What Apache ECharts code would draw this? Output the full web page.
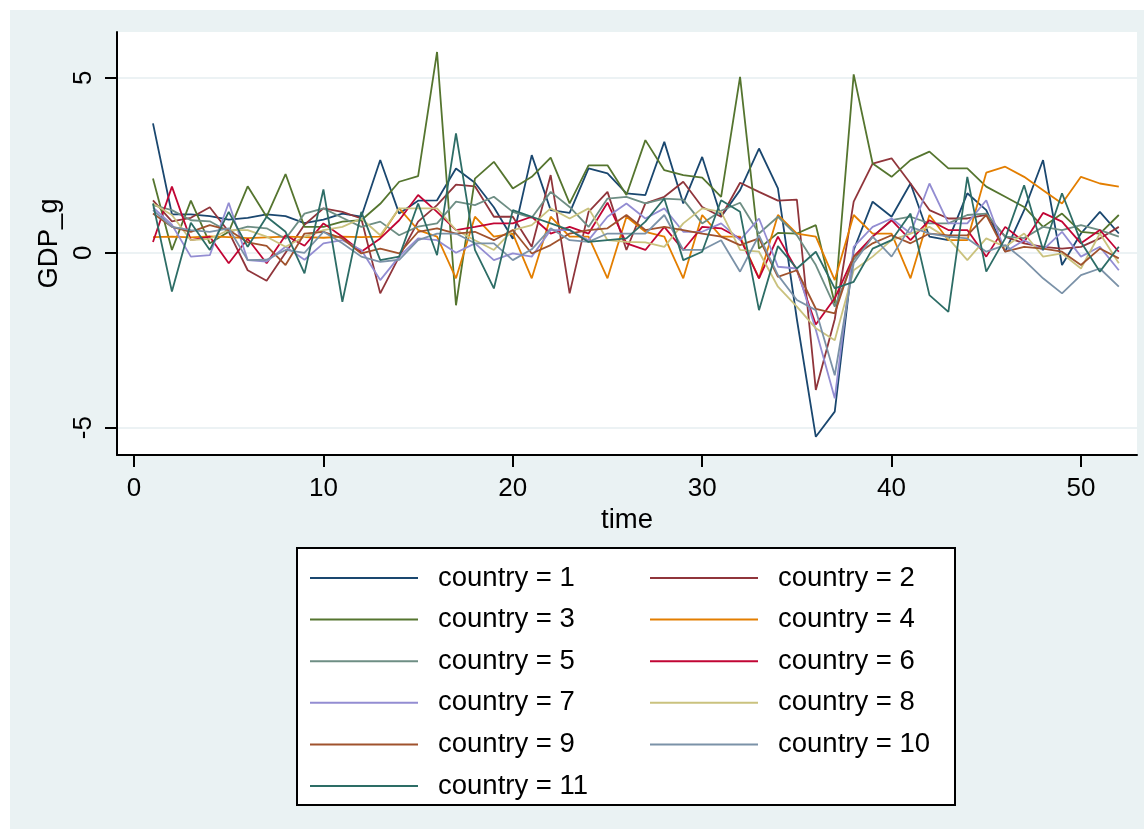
<!DOCTYPE html>
<html lang="en">
<head>
    <meta charset="utf-8">
    <title>GDP_g by country</title>
    <script src="https://cdn.jsdelivr.net/npm/echarts@6/dist/echarts.min.js"></script>
    <style>
        html, body { margin: 0; padding: 0; background: #fff; }
        #main { position: absolute; left: 10px; top: 10px; width: 1134px; height: 819px; }
    </style>
</head>
<body>
    <div id="main"></div>

    <script type="text/javascript">
    // time axis
    var time = [1,2,3,4,5,6,7,8,9,10,11,12,13,14,15,16,17,18,19,20,21,22,23,24,25,26,
                27,28,29,30,31,32,33,34,35,36,37,38,39,40,41,42,43,44,45,46,47,48,49,50,51,52];
    var xTicks = [0, 10, 20, 30, 40, 50];
    var yTicks = [-5, 0, 5];

    // GDP_g per country
    var country1 = [3.7,1.1,1.1,1.05,0.95,1.0,1.1,1.05,0.85,0.95,
        1.12,1.03,2.65,1.12,1.49,1.5,2.41,2.0,1.3,0.4,
        2.79,1.22,1.14,2.41,2.27,1.7,1.65,3.17,1.41,2.74,
        1.03,1.79,2.98,1.84,-1.9,-5.26,-4.54,0.08,1.46,1.03,
        1.98,0.46,0.36,1.7,1.22,0.03,1.22,2.65,-0.35,0.55,
        1.17,0.55];
    var country2 = [1.5,0.9,1.0,1.3,0.6,-0.5,-0.8,0.0,0.8,1.27,
        1.17,0.98,-1.16,-0.11,0.89,1.36,1.95,1.9,1.03,1.03,
        0.17,2.22,-1.16,1.17,1.74,0.08,1.41,1.6,2.03,1.31,
        1.03,2.0,1.74,1.49,1.52,-3.92,-1.9,1.46,2.55,2.7,
        1.98,1.22,0.98,0.98,1.08,0.46,0.27,0.17,0.12,0.17,
        0.41,0.74];
    var country3 = [2.12,0.08,1.49,0.27,0.6,1.9,1.03,2.25,0.74,0.74,
        0.89,0.93,1.4,2.03,2.19,5.74,-1.5,2.12,2.6,1.84,
        2.17,2.72,1.41,2.5,2.5,1.65,3.22,2.36,2.22,2.15,
        1.6,5.03,0.12,0.57,0.55,0.79,-1.45,5.1,2.55,2.17,
        2.65,2.89,2.41,2.41,1.89,1.6,1.31,0.74,1.12,0.6,
        0.55,1.08];
    var country4 = [0.45,0.46,0.44,0.47,0.45,0.42,0.44,0.46,0.45,0.43,
        0.46,0.45,0.46,1.27,0.65,0.46,-0.73,1.03,0.46,0.55,
        -0.73,1.03,0.46,0.46,-0.73,1.03,0.6,0.46,-0.73,1.08,
        0.46,0.46,-0.73,1.08,0.55,0.46,-0.78,1.08,0.55,0.55,
        -0.73,1.08,0.36,0.36,2.29,2.46,2.17,1.79,1.41,2.17,
        1.98,1.89];
    var country5 = [1.36,1.22,0.93,0.9,0.6,0.75,0.7,0.4,1.12,1.27,
        1.0,0.74,0.89,0.5,0.75,0.84,1.46,1.36,1.6,1.17,
        1.0,1.74,1.31,0.74,1.55,1.6,1.41,1.55,1.52,0.84,
        1.2,1.43,0.55,1.03,0.5,-0.35,-1.54,-0.2,0.46,0.93,
        1.03,0.84,0.84,1.08,1.12,0.46,0.42,0.74,0.65,0.79,
        0.65,0.46];
    var country6 = [0.31,1.89,0.36,0.46,-0.3,0.4,-0.3,0.5,0.2,0.84,
        0.46,0.03,0.41,0.93,1.65,1.17,0.65,0.74,0.84,0.84,
        1.03,0.55,0.74,0.55,1.43,0.27,0.08,0.74,0.08,0.74,
        0.7,0.41,-0.73,0.46,-0.5,-2.05,-1.3,-0.11,0.46,0.93,
        0.36,0.93,0.65,0.65,-0.11,0.74,0.31,1.14,0.89,0.27,
        0.65,0.03];
    var country7 = [1.3,0.8,-0.11,-0.07,1.43,-0.21,-0.25,0.17,-0.2,0.27,
        0.36,0.08,-0.78,-0.11,0.41,0.36,0.0,0.27,-0.21,-0.02,
        -0.11,0.65,0.65,0.36,1.03,1.41,0.98,1.27,0.6,0.6,
        0.84,0.36,0.98,-0.4,-0.45,-2.2,-4.16,0.17,0.74,0.98,
        0.55,1.98,0.84,0.84,1.5,0.03,0.36,0.08,0.6,-0.11,
        0.17,-0.5];
    var country8 = [1.41,1.08,0.36,0.4,0.65,0.65,0.46,0.17,0.46,0.65,
        0.74,0.98,0.5,1.27,1.27,1.27,0.65,0.36,0.08,0.65,
        0.79,1.27,0.98,1.27,0.36,0.31,0.3,0.17,0.84,1.27,
        1.17,0.08,0.03,-0.97,-1.54,-2.16,-2.5,-0.5,-0.11,0.36,
        0.55,0.74,0.41,-0.21,0.41,0.17,0.55,-0.11,-0.02,-0.45,
        0.55,-0.3];
    var country9 = [1.12,0.74,0.6,0.79,0.65,0.3,0.2,-0.35,0.55,0.6,
        0.41,-0.02,0.12,-0.02,0.6,0.7,0.55,0.6,0.36,0.65,
        -0.02,0.22,0.55,0.65,0.7,1.08,0.65,0.74,0.65,0.55,
        0.46,0.22,0.41,-0.69,-0.5,-1.6,-1.73,-0.11,0.27,0.5,
        0.27,0.55,0.5,0.5,1.08,0.03,0.17,0.12,0.03,-0.35,
        0.12,-0.16];
    var country10 = [1.22,0.74,0.65,0.6,0.7,-0.21,-0.2,0.08,0.0,0.6,
        0.27,-0.11,-0.26,-0.2,0.36,0.55,0.55,0.27,0.27,-0.21,
        0.1,0.7,0.36,0.31,0.55,0.55,0.55,1.08,0.08,0.08,
        0.36,-0.54,0.5,-0.64,-1.35,-1.64,-3.5,-0.3,0.46,-0.11,
        0.74,0.55,0.46,0.41,0.03,0.22,-0.21,-0.73,-1.16,-0.64,
        -0.45,-0.97];
    var country11 = [1.41,-1.11,0.86,0.08,1.17,0.17,1.03,0.6,-0.59,1.81,
        -1.4,1.17,-0.21,-0.11,1.41,-0.07,3.41,0.08,-1.02,1.22,
        1.03,0.84,0.65,0.31,0.36,0.41,0.89,1.55,-0.21,0.03,
        1.5,1.17,-1.64,0.19,-0.45,0.03,-1.02,-0.83,0.12,0.36,
        1.12,-1.21,-1.69,2.17,-0.54,0.41,1.93,0.08,1.7,0.31,
        -0.54,0.17];

    var names = ['country = 1','country = 2','country = 3','country = 4','country = 5','country = 6',
                 'country = 7','country = 8','country = 9','country = 10','country = 11'];
    var values = [country1,country2,country3,country4,country5,country6,
                  country7,country8,country9,country10,country11];
    // Stata s2color palette
    var colors = ['#1a476f','#90353b','#55752f','#e37e00','#6e8e84','#c10534',
                  '#938dd2','#cac27e','#a0522d','#7b92a8','#2d6d66'];

    var font = "'Liberation Sans', Arial, sans-serif";
    var fs = 26;      // tick labels
    var fsTitle = 27.5; // axis titles and legend

    var series = names.map(function (n, i) {
        return {
            name: n,
            type: 'line',
            symbol: 'none',
            color: colors[i],
            lineStyle: { width: 1.8, color: colors[i] },
            data: time.map(function (t, k) { return [t, values[i][k]]; })
        };
    });

    var legendCommon = {
        orient: 'vertical',
        top: 549,
        icon: 'rect',
        itemWidth: 108,
        itemHeight: 2,
        itemGap: 13.6,
        selectedMode: false,
        textStyle: { fontFamily: font, fontSize: fsTitle, color: '#000', lineHeight: 28, padding: [0, 0, 0, 15] }
    };

    var myChart = echarts.init(document.getElementById('main'));
    myChart.setOption({
        animation: false,
        backgroundColor: '#eaf2f3',
        textStyle: { fontFamily: font },
        grid: {
            left: 107, top: 22, width: 1020, height: 423,
            show: true, backgroundColor: '#fff', borderWidth: 0
        },
        graphic: [{
            type: 'rect',
            z: 1,
            shape: { x: 287, y: 538, width: 658, height: 257 },
            style: { fill: '#fff', stroke: '#000', lineWidth: 2 }
        }],
        legend: [
            Object.assign({ left: 295, data: names.filter(function (n, i) { return i % 2 === 0; }) }, legendCommon),
            Object.assign({ left: 635, data: names.filter(function (n, i) { return i % 2 === 1; }) }, legendCommon)
        ],
        xAxis: {
            type: 'value',
            min: -0.9,
            max: 52.96,
            name: 'time',
            nameLocation: 'middle',
            nameGap: 45,
            nameTextStyle: { fontSize: fsTitle, color: '#000', fontFamily: font },
            axisLine: { onZero: false, lineStyle: { color: '#000', width: 2 } },
            axisTick: { customValues: xTicks, length: 12, lineStyle: { color: '#000', width: 2 } },
            axisLabel: { customValues: xTicks, fontSize: fs, color: '#000', margin: 21 },
            splitLine: { show: false }
        },
        yAxis: {
            type: 'value',
            min: -5.78,
            max: 6.31,
            name: 'GDP_g',
            nameLocation: 'middle',
            nameGap: 48,
            nameRotate: 90,
            nameTextStyle: { fontSize: fsTitle, color: '#000', fontFamily: font },
            axisLine: { show: true, onZero: false, lineStyle: { color: '#000', width: 2 } },
            axisTick: { show: true, customValues: yTicks, length: 12, lineStyle: { color: '#000', width: 2 } },
            axisLabel: { customValues: yTicks, fontSize: fs, color: '#000', margin: 20, rotate: 90 },
            splitLine: { show: true, lineStyle: { color: '#e6eef0', width: 1.5 } }
        },
        series: series
    });
    </script>
</body>
</html>
